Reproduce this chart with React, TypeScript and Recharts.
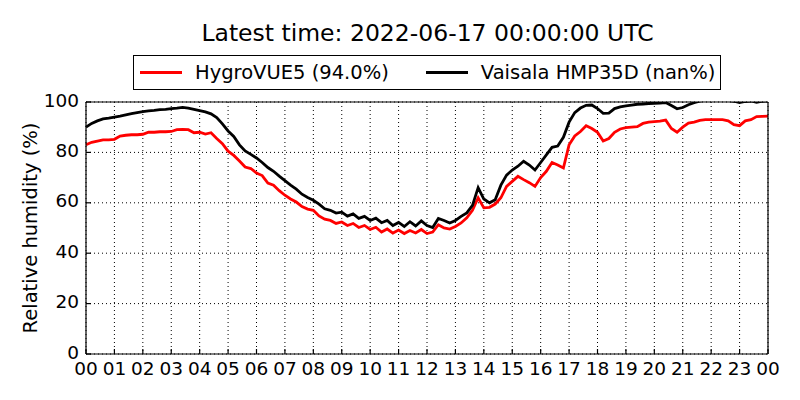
import { LineChart, Line, XAxis, YAxis, CartesianGrid } from 'recharts';

const FONT = '"DejaVu Sans", sans-serif';

const title = 'Latest time: 2022-06-17 00:00:00 UTC';
const seriesNames = ['HygroVUE5 (94.0%)', 'Vaisala HMP35D (nan%)'];
const seriesColors = ['#ff0000', '#000000'];

// hours since 00 UTC, 0.2 h step
const hours = Array.from({ length: 121 }, (_, i) => Math.round(i * 2) / 10);

const hygrovue = [
  83.0, 84.0, 84.5, 85.0, 85.0, 85.2, 86.5, 86.8, 87.0, 87.0,
  87.2, 88.0, 88.0, 88.2, 88.2, 88.3, 89.0, 89.1, 89.0, 87.8,
  88.0, 87.3, 87.8, 85.5, 83.5, 80.5, 78.8, 76.6, 74.2, 73.6,
  71.8, 70.8, 67.8, 67.0, 64.8, 63.0, 61.5, 60.3, 58.5, 57.5,
  57.0, 54.8, 53.5, 53.0, 51.8, 52.4, 51.0, 51.8, 50.2, 51.0,
  49.4, 50.3, 48.4, 49.6, 48.0, 49.2, 47.8, 49.0, 48.0, 49.4,
  47.8, 48.4, 51.3, 50.0, 49.6, 50.6, 52.0, 54.0, 57.0, 62.0,
  58.0, 58.2, 59.5, 62.0, 66.5, 68.5, 70.5, 69.2, 68.0, 66.5,
  70.0, 72.5, 76.0, 75.0, 73.8, 83.0, 86.5, 88.3, 90.6, 89.5,
  88.0, 84.5, 85.5, 88.0, 89.3, 89.8, 90.0, 90.2, 91.5, 92.0,
  92.2, 92.4, 92.8, 89.5, 88.0, 90.0, 91.6, 92.0, 92.7, 93.0,
  93.0, 93.0, 93.0, 92.5, 91.0, 90.6, 92.5, 93.0, 94.2, 94.3,
  94.4,
];

const vaisala = [
  90.0, 91.5, 92.5, 93.3, 93.6, 94.0, 94.4, 94.9, 95.4, 95.8,
  96.2, 96.5, 96.7, 97.0, 97.1, 97.4, 97.6, 97.9, 97.6, 97.1,
  96.6, 96.1, 95.3, 93.8, 91.3, 88.5, 86.3, 83.0, 80.6, 79.2,
  77.8, 76.0, 74.0, 72.5, 70.6, 68.8, 67.0, 65.4, 63.4, 62.1,
  61.0, 59.5, 57.6, 57.0, 55.9, 56.3, 54.7, 55.6, 53.8, 54.6,
  53.0, 53.9, 52.1, 53.0, 51.0, 52.2, 50.6, 52.5, 50.8, 52.8,
  51.0, 50.2, 53.8, 53.0, 52.0, 53.0, 54.6, 56.0, 59.0, 66.0,
  61.5, 60.0, 61.2, 67.0, 71.0, 73.0, 74.5, 76.5, 75.0, 73.0,
  76.0, 79.0, 82.0, 82.5, 86.0, 92.0, 95.8, 97.6, 98.7, 98.8,
  97.4, 95.5, 95.6, 97.4, 98.1, 98.5, 98.8, 99.1, 99.2, 99.4,
  99.5, 99.6, 99.8, 98.6, 97.3, 97.8, 98.9, 99.7, 100.3, 100.8,
  101.0, 101.0, 100.8, 100.6, 100.3, 99.8, 100.2, 100.4, 99.9, 100.3,
  100.5,
];

const hourTicks = Array.from({ length: 25 }, (_, i) => i);
const humidityTicks = [0, 20, 40, 60, 80, 100];

const data = hours.map((h, i) => ({ h, hygro: hygrovue[i], vais: vaisala[i] }));

function XTick({ x, y, payload }: any) {
  return (
    <text x={x} y={y + 1} dy="0.71em" textAnchor="middle" fontSize={18.5} fontFamily={FONT} fill="#000">
      {String(payload.value % 24).padStart(2, '0')}
    </text>
  );
}

function YTick({ x, y, payload }: any) {
  return (
    <text x={x} y={y - 2} dy="0.36em" textAnchor="end" fontSize={18.5} fontFamily={FONT} fill="#000">
      {payload.value}
    </text>
  );
}

function LegendBox() {
  return (
    <div
      style={{
        position: 'absolute',
        left: 133,
        top: 55,
        width: 586,
        height: 33,
        border: '1px solid #000',
        background: '#fff',
        display: 'flex',
        alignItems: 'center',
        fontFamily: FONT,
        fontSize: 19.5,
        color: '#000',
        zIndex: 2,
      }}
    >
      {seriesNames.map((name, i) => (
        <div key={name} style={{ display: 'flex', alignItems: 'center', marginLeft: i === 0 ? 6 : 37 }}>
          <div style={{ width: 42, height: 3, background: seriesColors[i], marginRight: 13 }} />
          <span>{name}</span>
        </div>
      ))}
    </div>
  );
}

export default function App() {
  return (
    <div style={{ position: 'absolute', left: 0, top: 0, width: 800, height: 400, background: '#fff' }}>
      <div
        style={{
          position: 'absolute',
          top: 19,
          left: 0,
          width: 855,
          textAlign: 'center',
          fontFamily: FONT,
          fontSize: 23.5,
          color: '#000',
        }}
      >
        {title}
      </div>
      <LegendBox />
      <LineChart width={800} height={400} data={data} margin={{ top: 101, right: 31, bottom: 16, left: 36 }}>
        <CartesianGrid stroke="#000" strokeDasharray="1 3" strokeWidth={1} verticalValues={hourTicks} horizontalValues={humidityTicks} />
        <XAxis
          dataKey="h"
          type="number"
          domain={[0, 24]}
          ticks={hourTicks}
          interval={0}
          height={30}
          tickSize={-5}
          tickMargin={12}
          stroke="#000"
          strokeWidth={1.2}
          tick={<XTick />}
        />
        <XAxis xAxisId="top" orientation="top" dataKey="h" type="number" domain={[0, 24]} ticks={hourTicks}
          height={1} tick={false} tickSize={-5} stroke="#000" strokeWidth={1.2} />
        <YAxis
          domain={[0, 100]}
          allowDataOverflow
          ticks={humidityTicks}
          interval={0}
          width={50}
          tickSize={-5}
          tickMargin={12}
          stroke="#000"
          strokeWidth={1.2}
          tick={<YTick />}
          label={({ viewBox }: any) => (
            <text
              x={viewBox.x + 1}
              y={viewBox.y + viewBox.height / 2}
              transform={`rotate(-90 ${viewBox.x + 1} ${viewBox.y + viewBox.height / 2})`}
              textAnchor="middle"
              fontSize={19.5}
              fontFamily={FONT}
              fill="#000"
            >
              Relative humidity (%)
            </text>
          )}
        />
        <YAxis yAxisId="right" orientation="right" domain={[0, 100]} ticks={humidityTicks} width={1}
          tick={false} tickSize={-5} stroke="#000" strokeWidth={1.2} />
        <Line type="linear" dataKey="hygro" name={seriesNames[0]} stroke={seriesColors[0]} strokeWidth={2.8} dot={false} isAnimationActive={false} />
        <Line type="linear" dataKey="vais" name={seriesNames[1]} stroke={seriesColors[1]} strokeWidth={2.8} dot={false} isAnimationActive={false} />
      </LineChart>
    </div>
  );
}
